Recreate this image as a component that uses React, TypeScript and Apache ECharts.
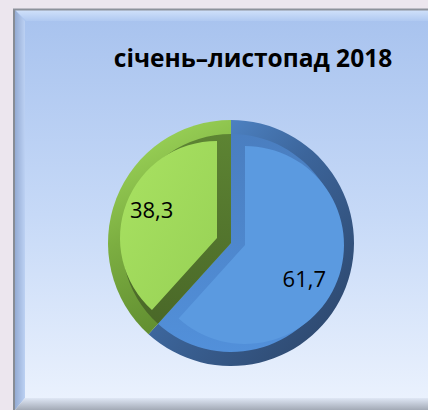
import React, { useEffect, useRef } from "react";
import * as echarts from "echarts";

const TITLE = "січень–листопад 2018";
const categories = ["A", "B"];
const values = [61.7, 38.3];
const labels = ["61,7", "38,3"];

export default function App() {
  const ref = useRef<HTMLDivElement>(null);
  useEffect(() => {
    const chart = echarts.init(ref.current!, null, { renderer: "svg" });
    const lg = (x, y, x2, y2, stops) =>
      new echarts.graphic.LinearGradient(x, y, x2, y2, stops.map((c) => ({ offset: c[0], color: c[1] })));
    const rimColors = [
      lg(0, 0, 1, 1, [[0, "#5a98e0"], [0.45, "#3c659b"], [1, "#2a4163"]]),
      lg(0, 0, 0.3, 1, [[0, "#a4de5e"], [0.55, "#7cae41"], [1, "#628f31"]]),
    ];
    const sideColors = [
      lg(0, 0, 0, 1, [[0, "#4a7ec0"], [1, "#5290da"]]),
      lg(0, 0, 0, 1, [[0, "#5d8433"], [1, "#4a6828"]]),
    ];
    const faceColors = [
      "#5b9ae0",
      lg(0, 0, 1, 1, [[0, "#a9e262"], [1, "#97d155"]]),
    ];
    const labelOffsets = [[-6, 4], [0, -3]];
    const pieBase = {
      type: "pie",
      startAngle: 90,
      clockwise: true,
      silent: true,
      label: { show: false },
      labelLine: { show: false },
      emphasis: { disabled: true },
    };
    chart.setOption({
      animation: false,
      backgroundColor: "#ece6ee",
      graphic: [
        {
          type: "rect",
          z: -10,
          shape: { x: 13, y: 9, width: 430, height: 410 },
          style: {
            fill: lg(0, 0, 0, 1, [[0, "#a7c2ee"], [0.5, "#c6d9f7"], [1, "#eef4fe"]]),
          },
        },
        {
          type: "polygon",
          z: -9,
          shape: { points: [[15, 10], [440, 10], [440, 21], [26, 21]] },
          style: { fill: lg(0, 0, 0, 1, [[0, "#d0e1fa"], [1, "#b0c9f1"]]) },
        },
        {
          type: "polygon",
          z: -9,
          shape: { points: [[15, 10], [25, 21], [25, 398], [15, 410]] },
          style: { fill: lg(0, 0, 1, 0, [[0, "#94abd3"], [1, "#bcd1f3"]]) },
        },
        {
          type: "polygon",
          z: -9,
          shape: { points: [[15, 410], [25, 398], [440, 398], [440, 410]] },
          style: { fill: lg(0, 0, 0, 1, [[0, "#dfe7f5"], [1, "#a3aab6"]]) },
        },
        {
          type: "line",
          z: -8,
          shape: { x1: 14, y1: 9, x2: 14, y2: 410 },
          style: { stroke: "#878c95", lineWidth: 2 },
        },
        {
          type: "line",
          z: -8,
          shape: { x1: 13, y1: 9.5, x2: 430, y2: 9.5 },
          style: { stroke: "#8d929b", lineWidth: 2 },
        },
        {
          type: "text",
          x: 253,
          y: 57,
          style: {
            text: TITLE,
            fill: "#000000",
            font: "bold 24.5px 'Open Sans', sans-serif",
            align: "center",
            verticalAlign: "middle",
          },
        },
      ],
      series: [
        {
          ...pieBase,
          center: [231, 243],
          radius: 123,
          data: categories.map((c, i) => ({ name: c, value: values[i], itemStyle: { color: rimColors[i] } })),
        },
        {
          ...pieBase,
          center: [231, 243],
          radius: 109,
          data: categories.map((c, i) => ({ name: c, value: values[i], itemStyle: { color: sideColors[i] } })),
        },
        {
          ...pieBase,
          center: [217, 238],
          radius: 97,
          data: categories.map((c, i) => ({
            name: c,
            value: values[i],
            itemStyle: { color: i === 1 ? faceColors[1] : "rgba(0,0,0,0)" },
          })),
        },
        {
          ...pieBase,
          center: [245, 245],
          radius: 99,
          data: categories.map((c, i) => ({
            name: c,
            value: values[i],
            itemStyle: { color: i === 0 ? faceColors[0] : "rgba(0,0,0,0)" },
          })),
        },
        {
          ...pieBase,
          center: [231, 243],
          radius: 164,
          z: 5,
          label: {
            show: true,
            position: "inside",
            formatter: (p) => labels[p.dataIndex],
            color: "#000000",
            fontSize: 22,
            fontFamily: "'Open Sans', sans-serif",
          },
          data: categories.map((c, i) => ({
            name: c,
            value: values[i],
            itemStyle: { color: "rgba(0,0,0,0)" },
            label: { offset: labelOffsets[i] },
          })),
        },
      ],
    });
    return () => chart.dispose();
  }, []);
  return (
    <div
      ref={ref}
      style={{ position: "fixed", left: 0, top: 0, width: 428, height: 410 }}
    />
  );
}
